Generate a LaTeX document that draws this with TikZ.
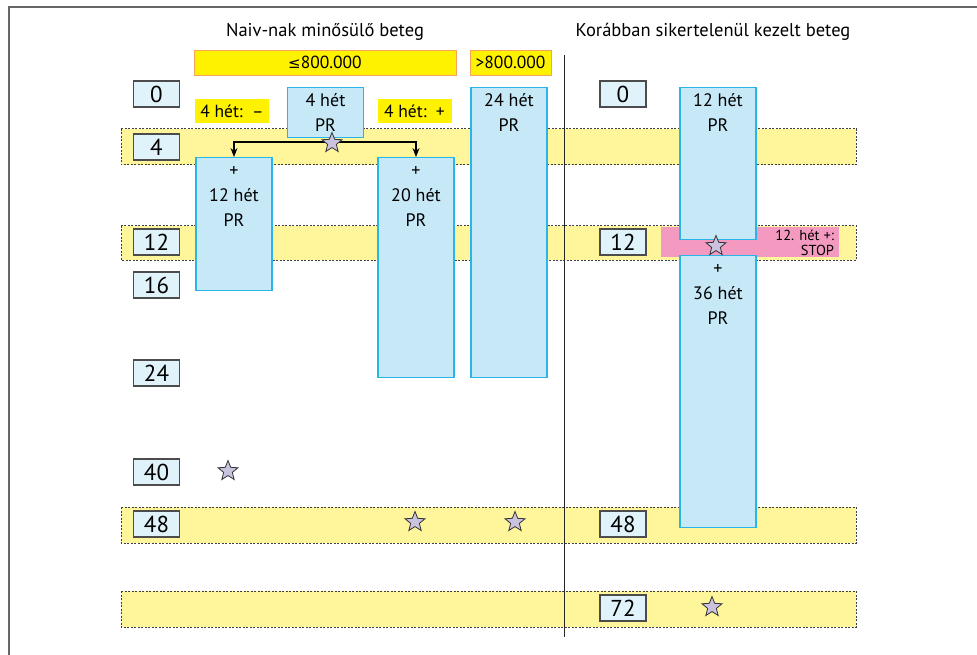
\documentclass[tikz,border=0pt]{standalone}
\usepackage{fontspec}
\setmainfont{PT Sans}
\newfontfamily\jelfont{DejaVu Sans}
\usetikzlibrary{shapes.geometric,arrows.meta}

\definecolor{savsarga}{HTML}{FFF59B}
\definecolor{sarga}{HTML}{FFF200}
\definecolor{narancs}{HTML}{F7A35C}
\definecolor{kekkitoltes}{HTML}{C6E8F7}
\definecolor{kekkeret}{HTML}{29B5E8}
\definecolor{hetkitoltes}{HTML}{E0F3FB}
\definecolor{rozsaszin}{HTML}{F49AC1}
\definecolor{csillagszin}{HTML}{C9C3DF}

\tikzset{
  sav/.style={draw=black!75, fill=savsarga, dash pattern=on 2pt off 1.5pt, line width=1pt},
  hetdoboz/.style={draw=black!70, fill=hetkitoltes, line width=1.2pt, minimum width=46,
    minimum height=26, inner sep=0pt, font=\fontsize{23}{23}\selectfont},
  kekdoboz/.style={draw=kekkeret, fill=kekkitoltes, line width=1.2pt, minimum width=76,
    inner sep=0pt, anchor=north},
  kekszoveg/.style={anchor=north, inner sep=0pt, yshift=-6pt, align=center,
    font=\fontsize{18}{25}\selectfont},
  hatar/.style={fill=sarga, draw=narancs, line width=0.8pt, minimum height=25, inner sep=0pt,
    font=\fontsize{17.5}{17.5}\selectfont},
  cimke/.style={fill=sarga, minimum width=74, minimum height=24, inner sep=0pt,
    font=\fontsize{17.5}{17.5}\selectfont},
  cim/.style={font=\fontsize{18.5}{18.5}\selectfont},
  csillag/.style={star, star points=5, star point ratio=2.3, minimum size=21, inner sep=0pt,
    draw=black!80, fill=csillagszin, line width=0.8pt},
  nyil/.style={line width=1.2pt, -{Stealth[length=9pt,width=7pt]}}
}

\begin{document}
\begin{tikzpicture}[x=1pt, y=-1pt]
  \useasboundingbox (0,0) rectangle (977,655);
  % keret
  \draw[black!60, line width=1.6pt] (9,655) -- (9,7) -- (977,7);
  % savok
  \draw[sav] (121,129) rectangle (856,165);
  \draw[sav] (121,226) rectangle (856,260);
  \draw[sav] (121,507) rectangle (856,543);
  \draw[sav] (121,591) rectangle (856,627);
  % elvalaszto
  \draw[black!85, line width=0.8pt] (564,55) -- (564,637);
  % cimek
  \node[cim] (naiv) at (325,32) {Naiv-nak minősülő beteg};
  \node[cim] (korabban) at (713,32) {Korábban sikertelenül kezelt beteg};
  \node[hatar, minimum width=262] (kis) at (325,62.5) {{\jelfont\fontsize{15}{15}\selectfont ≤}800.000};
  \node[hatar, minimum width=81] (nagy) at (510.5,62.5) {>800.000};
  \node[cimke] (minusz) at (232,111) {4 hét:\ \ –};
  \node[cimke] (plusz) at (414.5,111) {4 hét:\ \ +};
  % STOP
  \node[fill=rozsaszin, minimum width=178, minimum height=30, inner sep=0pt] (stop) at (750,242) {};
  \node[anchor=east, align=right, inner sep=0pt, xshift=-5pt, yshift=-1pt,
    font=\fontsize{14.5}{15}\selectfont] (stopszoveg) at (stop.east) {12. hét +:\\STOP};
  % kezelesek
  \node[kekdoboz, minimum height=50] (pr4) at (325.5,87) {};
  \node[kekszoveg] (pr4t) at (pr4.north) {4 hét\\PR};
  \node[kekdoboz, minimum height=133] (pr12) at (234,157) {};
  \node[kekszoveg, yshift=-3pt] (pr12t) at (pr12.north) {+\\12 hét\\PR};
  \node[kekdoboz, minimum height=220] (pr20) at (416,157) {};
  \node[kekszoveg, yshift=-3pt] (pr20t) at (pr20.north) {+\\20 hét\\PR};
  \node[kekdoboz, minimum height=290] (pr24) at (509,87) {};
  \node[kekszoveg] (pr24t) at (pr24.north) {24 hét\\PR};
  \node[kekdoboz, minimum height=152] (jpr12) at (718,87) {};
  \node[kekszoveg] (jpr12t) at (jpr12.north) {12 hét\\PR};
  \node[kekdoboz, minimum height=272] (jpr36) at (718,255) {};
  \node[kekszoveg, yshift=-3pt] (jpr36t) at (jpr36.north) {+\\36 hét\\PR};
  % hetek
  \foreach \h/\y in {0/94, 4/147, 12/242, 16/285, 24/373, 40/472, 48/524}
    \node[hetdoboz] (bal\h) at (156.5,\y) {\h};
  \foreach \h/\y in {0/94, 12/242, 48/524, 72/608}
    \node[hetdoboz] (jobb\h) at (623,\y) {\h};
  % elagazas
  \coordinate (elag) at (332,142);
  \draw[nyil] (elag) -| (pr12.north);
  \draw[nyil] (elag) -| (pr20.north);
  % csillagok
  \node[csillag] (cs1) at (332,143) {};
  \node[csillag] (cs2) at (228,471) {};
  \node[csillag] (cs3) at (415,522) {};
  \node[csillag] (cs4) at (515,522) {};
  \node[csillag] (cs5) at (716,246) {};
  \node[csillag] (cs6) at (712,607) {};
\end{tikzpicture}
\end{document}
